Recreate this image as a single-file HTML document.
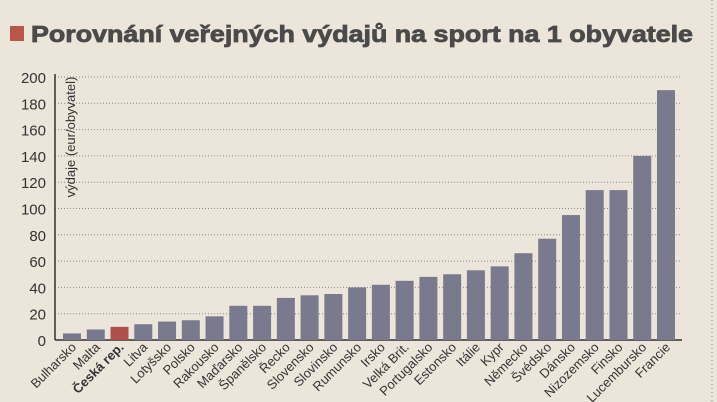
<!DOCTYPE html>
<html><head><meta charset="utf-8"><style>
body{margin:0;background:#ebe5da;}
svg{display:block;font-family:"Liberation Sans",sans-serif;}
</style></head><body>
<svg id="chart" width="717" height="402" viewBox="0 0 717 402">
<rect x="0" y="0" width="717" height="402" fill="#ebe5da"/>
<rect x="10" y="26" width="14" height="15" fill="#b8554c"/>
<text x="31" y="42" font-size="23" font-weight="bold" fill="#4a4a4a" textLength="662" lengthAdjust="spacingAndGlyphs" stroke="#4a4a4a" stroke-width="0.8">Porovnání veřejných výdajů na sport na 1 obyvatele</text>
<line x1="712" y1="0" x2="712" y2="402" stroke="#888" stroke-dasharray="1,3"/>
<g id="grid"></g><g id="bars"></g><g id="labels"></g>
<text transform="translate(75,137) rotate(-90)" text-anchor="middle" font-size="13" fill="#333">výdaje (eur/obyvatel)</text>
</svg>
<script>
const categories=["Bulharsko","Malta","Česká rep.","Litva","Lotyšsko","Polsko","Rakousko","Maďarsko","Španělsko","Řecko","Slovensko","Slovinsko","Rumunsko","Irsko","Velká Brit.","Portugalsko","Estonsko","Itálie","Kypr","Německo","Švédsko","Dánsko","Nizozemsko","Finsko","Lucembursko","Francie"];
const values=[5,8,10,12,14,15,18,26,26,32,34,35,40,42,45,48,50,53,56,66,77,95,114,114,140,190];
const yTicks=[0,20,40,60,80,100,120,140,160,180,200];
const NS="http://www.w3.org/2000/svg";
const y0=340,y1=77,x0=55,xEnd=682,first=72,pitch=23.76,bw=18;
const yS=v=>y0-(v/200)*(y0-y1);
const xS=i=>first+i*pitch;
function mk(t,a,p){const e=document.createElementNS(NS,t);for(const k in a)e.setAttribute(k,a[k]);p.appendChild(e);return e;}
const grid=document.getElementById('grid'),bars=document.getElementById('bars'),labels=document.getElementById('labels');
yTicks.forEach(v=>{
  if(v>0){const l=mk('line',{x1:x0,x2:xEnd,y1:yS(v),y2:yS(v),stroke:'#8a8a8a','stroke-dasharray':'1,2'},grid);
  
  }
  const t=mk('text',{x:46,y:yS(v)+6,'text-anchor':'end','font-size':'15',fill:'#333'},grid);
  t.textContent=v;
  
  
});
const ax=mk('line',{x1:x0,x2:x0,y1:y1-3,y2:y0,stroke:'#333','stroke-width':1.5},grid);


const bx=mk('line',{x1:x0,x2:xEnd,y1:y0,y2:y0,stroke:'#333','stroke-width':1.5},grid);


categories.forEach((c,i)=>{
  const cx=xS(i);
  const r=mk('rect',{x:cx-bw/2,y:yS(values[i]),width:bw,height:y0-yS(values[i]),fill:i===2?'#b04f47':'#797a8e'},bars);
  
  
  const t=mk('text',{transform:`translate(${cx+5},${y0+8}) rotate(-45)`,'text-anchor':'end','font-size':'13',fill:'#333','font-weight':i===2?'bold':'normal'},labels);
  t.textContent=c;
  
  
});
</script>
</body></html>
